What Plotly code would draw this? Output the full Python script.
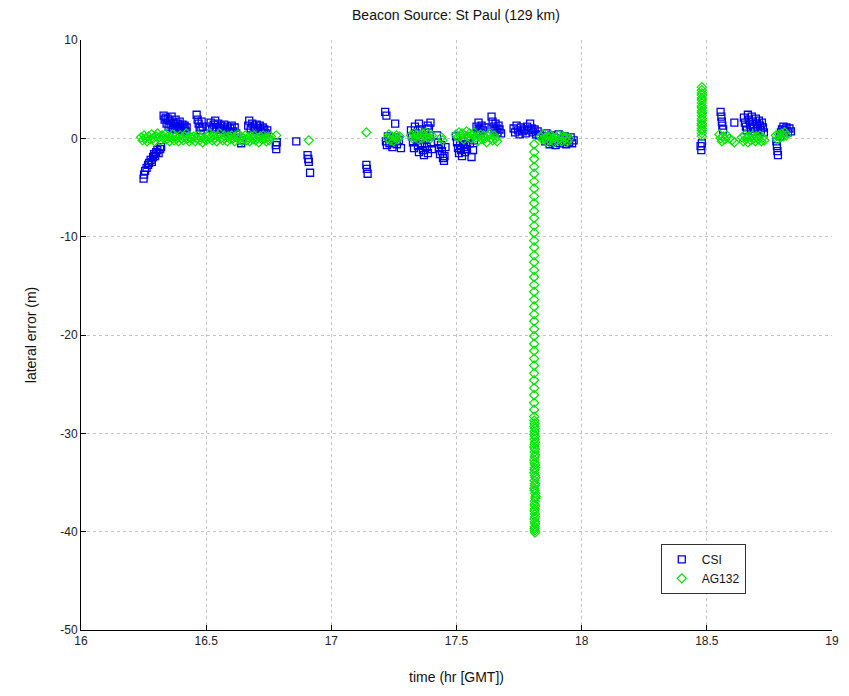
import plotly.graph_objects as go

# Lateral error of two DGPS receivers fed by the St Paul beacon (129 km)

x_ticks = [16, 16.5, 17, 17.5, 18, 18.5, 19]
y_ticks = [10, 0, -10, -20, -30, -40, -50]

# CSI receiver: (time [hr GMT], lateral error [m])
csi_time = [
    16.250, 16.252, 16.256, 16.262, 16.268, 16.272, 16.278, 16.283, 16.288, 16.292, 16.296, 16.300,
    16.305, 16.310, 16.316, 16.320,
    16.330, 16.334, 16.338, 16.342, 16.346, 16.350, 16.354, 16.358, 16.362, 16.366, 16.370, 16.374,
    16.378, 16.382, 16.386, 16.390, 16.394, 16.398, 16.402, 16.406, 16.410, 16.414, 16.418, 16.422,
    16.462, 16.466, 16.470, 16.474, 16.478, 16.482, 16.486,
    16.512, 16.518, 16.524, 16.530, 16.536, 16.542, 16.548, 16.554, 16.560, 16.566, 16.572, 16.578,
    16.584, 16.590, 16.596, 16.602, 16.608, 16.614, 16.620,
    16.640, 16.642,
    16.668, 16.672, 16.678, 16.684, 16.690, 16.696, 16.702, 16.708, 16.714, 16.720, 16.726, 16.732,
    16.738, 16.744,
    16.778, 16.780, 16.782,
    16.860,
    16.905, 16.908, 16.910, 16.915,
    17.140, 17.142, 17.145,
    17.215, 17.220, 17.255,
    17.218, 17.222, 17.226, 17.232, 17.238, 17.244, 17.250, 17.256, 17.262, 17.270, 17.278,
    17.318, 17.322, 17.326, 17.330, 17.334, 17.338, 17.342, 17.346, 17.350, 17.354, 17.358, 17.362,
    17.366, 17.370, 17.374, 17.378, 17.382, 17.386, 17.390, 17.394, 17.398, 17.402, 17.350, 17.385,
    17.396,
    17.422, 17.426, 17.430, 17.434, 17.438, 17.442, 17.446, 17.450, 17.452, 17.456,
    17.498, 17.502, 17.506, 17.510, 17.514, 17.518, 17.522, 17.526, 17.530, 17.534, 17.538, 17.542,
    17.548, 17.554, 17.560, 17.566, 17.570,
    17.580, 17.584, 17.588, 17.592, 17.596, 17.600, 17.606, 17.612,
    17.640, 17.644, 17.648, 17.652, 17.656, 17.660, 17.664, 17.668, 17.672, 17.678,
    17.728, 17.734, 17.740, 17.746, 17.752, 17.758, 17.764, 17.770, 17.776, 17.782, 17.788, 17.794,
    17.800, 17.806, 17.812, 17.818, 17.824, 17.830,
    17.848, 17.854, 17.860, 17.866, 17.872, 17.878, 17.884, 17.890, 17.896, 17.902, 17.908, 17.914,
    17.920, 17.926, 17.932, 17.938, 17.944, 17.950, 17.956, 17.962, 17.968,
    18.475, 18.478, 18.480,
    18.555, 18.558, 18.560, 18.562, 18.565,
    18.610,
    18.648, 18.652, 18.656, 18.660, 18.664, 18.668, 18.672, 18.676, 18.680, 18.684, 18.688, 18.692,
    18.696, 18.700, 18.704, 18.708, 18.712, 18.716, 18.720, 18.724, 18.728,
    18.778, 18.780, 18.782, 18.784,
    18.792, 18.796, 18.800, 18.806, 18.812, 18.818, 18.824, 18.830, 18.836,
]
csi_error = [
    -4.1, -3.7, -3.3, -3.0, -2.7, -2.5, -2.2, -2.4, -1.9, -1.6, -1.8, -1.4,
    -1.2, -1.5, -1.1, -0.9,
    2.3, 1.9, 2.1, 1.5, 2.0, 1.2, 1.8, 1.4, 2.2, 1.0, 1.6, 1.3,
    1.9, 0.9, 1.5, 1.1, 1.7, 1.2, 0.8, 1.4, 1.0, 1.3, 0.7, 1.1,
    2.4, 1.9, 1.5, 1.1, 0.8, 1.7, 1.2,
    1.2, 1.6, 1.0, 1.4, 1.8, 1.1, 1.5, 0.9, 1.3, 1.0, 1.4, 0.8,
    1.2, 0.6, 1.0, 1.3, 0.7, 1.1, 0.5,
    -0.5, -0.2,
    1.3, 1.8, 1.0, 1.5, 1.2, 0.8, 1.4, 1.0, 1.3, 0.7, 1.1, 0.9,
    0.5, 0.8,
    -0.7, -1.1, -0.4,
    -0.3,
    -1.7, -2.1, -2.4, -3.5,
    -2.7, -3.1, -3.6,
    2.7, 2.3, 1.5,
    -0.3, -0.7, 0.2, -0.5, 0.0, -0.9, -0.4, 0.1, -0.6, -0.2, -1.0,
    0.8, 0.2, -0.4, -1.0, 1.2, 0.5, -0.2, -0.8, -1.4, 0.9, 0.1, -0.6,
    -1.2, -1.7, 0.6, -0.1, -0.9, -1.5, 1.0, 0.3, -0.5, -1.1, 1.5, 1.3,
    1.6,
    0.3, -0.4, -1.0, -1.6, -0.7, -1.3, -2.0, -2.3, -1.8, -0.9,
    0.2, -0.4, -1.0, -1.5, -0.7, -1.2, -1.8, -0.3, -0.9, -1.4, -0.6, -1.1,
    0.0, -0.5, -1.9, -1.2, -0.2,
    1.2, 0.7, 1.6, 1.0, 0.5, 1.3, 0.8, 1.1,
    2.2, 1.7, 1.2, 0.8, 1.5, 1.0, 0.6, 1.3, 0.9, 0.5,
    1.0, 0.6, 1.3, 0.8, 0.4, 1.1, 0.7, 0.9, 0.5, 1.2, 0.8, 1.5,
    1.0, 0.6, 0.9, 0.4, 0.7, 0.3,
    0.2, -0.3, 0.5, -0.1, -0.6, 0.3, -0.4, 0.1, -0.7, -0.2, 0.4, -0.5,
    0.0, -0.3, 0.2, -0.6, -0.1, -0.4, 0.1, -0.5, -0.2,
    -0.8, -1.2, -0.5,
    2.7, 2.2, 1.7, 1.3, 0.9,
    1.6,
    2.1, 1.6, 1.2, 0.8, 2.4, 1.9, 1.4, 1.0, 2.2, 1.7, 1.2, 0.7,
    2.0, 1.5, 1.0, 1.8, 1.3, 0.8, 1.6, 1.1, 0.6,
    -0.3, -0.8, -1.3, -1.7,
    0.2, 0.6, 0.9, 1.2, 0.8, 1.1, 0.6, 1.0, 0.7,
]

# AG132 receiver: (time [hr GMT], lateral error [m])
ag_time = [
    16.240, 16.246, 16.252, 16.258, 16.264, 16.270, 16.276, 16.282, 16.288, 16.294, 16.300, 16.306,
    16.312, 16.318, 16.324, 16.330, 16.336, 16.342, 16.348, 16.354, 16.360, 16.366, 16.372, 16.378,
    16.384, 16.390, 16.396, 16.402, 16.408, 16.414, 16.420, 16.426, 16.432, 16.438, 16.444, 16.450,
    16.456, 16.462, 16.468, 16.474, 16.480, 16.486, 16.492, 16.500, 16.506, 16.512, 16.518, 16.524,
    16.530, 16.536, 16.542, 16.548, 16.554, 16.560, 16.566, 16.572, 16.578, 16.584, 16.590, 16.596,
    16.602, 16.608, 16.614, 16.620, 16.626, 16.632, 16.638, 16.644, 16.650, 16.656, 16.662, 16.668,
    16.674, 16.680, 16.686, 16.692, 16.698, 16.704, 16.710, 16.716, 16.722, 16.728, 16.734, 16.740,
    16.746, 16.752, 16.758,
    16.780, 16.910,
    17.140,
    17.225, 17.230, 17.236, 17.242, 17.248, 17.254, 17.260, 17.266, 17.272,
    17.318, 17.324, 17.330, 17.336, 17.342, 17.348, 17.354, 17.360, 17.366, 17.372, 17.378, 17.384,
    17.390, 17.396, 17.402,
    17.440, 17.444,
    17.498, 17.504, 17.510, 17.516, 17.522, 17.528, 17.534, 17.540, 17.546, 17.552, 17.558, 17.564,
    17.570,
    17.578, 17.584, 17.590, 17.596, 17.602, 17.608, 17.614, 17.620, 17.626, 17.632, 17.638, 17.644,
    17.650, 17.656, 17.662,
    17.836, 17.842, 17.848, 17.854, 17.860, 17.866, 17.872, 17.878, 17.884, 17.890, 17.896, 17.902,
    17.908, 17.914, 17.920, 17.926, 17.932, 17.938, 17.944, 17.950,
    # drop-out at 17.81 hr
    17.810, 17.810, 17.810, 17.810, 17.810, 17.810, 17.810, 17.810, 17.810, 17.810, 17.810, 17.810,
    17.810, 17.810, 17.810, 17.810, 17.810, 17.810, 17.810, 17.810, 17.810, 17.810, 17.810, 17.810,
    17.810, 17.810, 17.810, 17.810, 17.810, 17.810, 17.810, 17.810, 17.810, 17.810, 17.810, 17.810,
    17.810, 17.810,
    17.811, 17.812, 17.811, 17.813, 17.812, 17.811, 17.813, 17.812, 17.814, 17.812, 17.811, 17.813,
    17.812, 17.814, 17.813, 17.811, 17.812, 17.814, 17.813, 17.812, 17.811, 17.813, 17.815, 17.812,
    17.814, 17.813, 17.811, 17.812, 17.814, 17.816, 17.815, 17.813, 17.812, 17.814, 17.813, 17.812,
    17.813, 17.814, 17.812, 17.813, 17.814, 17.813, 17.812, 17.813, 17.814,
    # jump at 18.48 hr
    18.480, 18.480, 18.480, 18.480, 18.480, 18.480, 18.480, 18.480, 18.480, 18.480, 18.480, 18.480,
    18.480, 18.480, 18.480, 18.480, 18.480, 18.480, 18.480, 18.480,
    18.550, 18.555, 18.560, 18.566, 18.572, 18.580, 18.590, 18.600, 18.610,
    18.640, 18.646, 18.652, 18.658, 18.664, 18.670, 18.676, 18.682, 18.688, 18.694, 18.700, 18.706,
    18.712, 18.718, 18.724, 18.730,
    18.776, 18.782, 18.788, 18.794, 18.800, 18.806, 18.812, 18.818,
]
ag_error = [
    0.1, -0.2, 0.3, 0.0, -0.3, 0.2, -0.1, 0.4, 0.0, -0.3, 0.2, 0.5,
    0.1, -0.2, 0.3, 0.0, 0.4, -0.1, 0.2, -0.3, 0.1, 0.4, -0.2, 0.2,
    0.0, -0.3, 0.3, 0.0, -0.2, 0.2, 0.5, 0.0, -0.3, 0.1, -0.1, 0.2,
    -0.3, 0.0, 0.3, -0.2, 0.1, -0.4, 0.0, -0.2, 0.2, 0.5, 0.1, -0.2,
    0.3, 0.0, -0.3, 0.2, 0.5, 0.0, -0.2, 0.3, 0.1, -0.3, 0.2, -0.1,
    0.3, 0.0, -0.3, 0.1, 0.4, -0.1, 0.2, -0.3, 0.0, 0.3, -0.2, 0.1,
    -0.3, 0.2, -0.1, 0.3, -0.2, 0.0, -0.4, 0.2, -0.1, 0.3, 0.0, -0.3,
    0.1, -0.2, 0.2,
    0.3, -0.2,
    0.6,
    0.0, 0.4, -0.2, 0.2, -0.3, 0.1, 0.3, -0.1, 0.2,
    0.3, 0.0, 0.5, 0.1, 0.4, -0.1, 0.3, 0.0, 0.5, 0.2, 0.6, 0.1,
    0.4, 0.0, 0.3,
    0.1, -0.2,
    0.4, 0.1, 0.6, 0.2, 0.5, -0.1, 0.3, 0.7, 0.2, 0.5, 0.0, 0.3,
    0.6,
    0.1, -0.3, 0.2, 0.4, -0.1, 0.3, 0.0, -0.4, 0.2, 0.5, 0.0, -0.2,
    0.3, 0.0, -0.3,
    0.2, -0.1, 0.4, 0.0, -0.3, 0.2, -0.2, 0.3, 0.0, -0.4, 0.1, -0.2,
    0.3, 0.0, -0.3, 0.2, -0.1, 0.1, -0.3, 0.0,
    -0.6, -1.4, -2.1, -2.9, -3.6, -4.4, -5.1, -5.9, -6.6, -7.4, -8.1, -8.9,
    -9.6, -10.4, -11.1, -11.9, -12.6, -13.4, -14.1, -14.9, -15.6, -16.4, -17.1, -17.9,
    -18.6, -19.4, -20.1, -20.9, -21.6, -22.4, -23.1, -23.9, -24.6, -25.4, -26.1, -26.9,
    -27.6, -28.3,
    -28.7, -29.0, -29.3, -29.5, -29.8, -30.1, -30.3, -30.6, -30.9, -31.1, -31.4, -31.6,
    -31.9, -32.2, -32.4, -32.7, -33.0, -33.2, -33.5, -33.7, -34.0, -34.3, -34.5, -34.8,
    -35.1, -35.3, -35.6, -35.8, -36.1, -36.4, -36.6, -36.9, -37.2, -37.4, -37.7, -37.9,
    -38.2, -38.5, -38.7, -39.0, -39.2, -39.5, -39.7, -39.9, -40.1,
    0.2, 0.5, 0.8, 1.0, 1.3, 1.5, 1.8, 2.0, 2.3, 2.6, 2.8, 3.1,
    3.3, 3.6, 3.9, 4.1, 4.4, 4.6, 4.9, 5.2,
    0.4, 0.0, -0.3, 0.2, -0.1, 0.3, 0.0, -0.2, -0.4,
    0.1, -0.3, 0.3, 0.0, -0.4, 0.2, -0.2, 0.3, 0.0, -0.3, 0.2, -0.1,
    0.3, -0.3, 0.1, -0.2,
    0.3, -0.1, 0.4, 0.1, 0.5, 0.2, 0.6, 0.3,
]

FONT = "Liberation Sans, Arial, Helvetica, sans-serif"

fig = go.Figure()
fig.add_trace(go.Scatter(
    x=csi_time, y=csi_error, mode="markers", name="CSI",
    marker=dict(symbol="square-open", size=7, color="#0000ee", line=dict(width=1.3)),
))
fig.add_trace(go.Scatter(
    x=ag_time, y=ag_error, mode="markers", name="AG132",
    marker=dict(symbol="diamond-open", size=7, color="#00e600", line=dict(width=1.2)),
))

axis_common = dict(
    showgrid=True, gridcolor="#c4c4c4", gridwidth=1, griddash="dot",
    zeroline=False, showline=True, linecolor="#000000", linewidth=1,
    mirror=False, ticks="inside", ticklen=5, tickcolor="#000000",
    tickfont=dict(family=FONT, size=12, color="#222222"),
)

fig.update_layout(
    width=849, height=696,
    paper_bgcolor="white", plot_bgcolor="white",
    margin=dict(l=81, r=10, t=40, b=66),
    title=dict(text="Beacon Source: St Paul (129 km)", x=0.537, xanchor="center",
               y=0.979, yanchor="middle",
               font=dict(family=FONT, size=14, color="#111111")),
    xaxis=dict(range=[16, 19], tickvals=x_ticks, ticktext=[str(v) for v in x_ticks],
               title=dict(text="time (hr [GMT])", font=dict(family=FONT, size=14, color="#111111"),
                          standoff=24),
               **axis_common),
    yaxis=dict(range=[-50, 10], tickvals=y_ticks, ticktext=[str(v) for v in y_ticks],
               title=dict(text="lateral error (m)", font=dict(family=FONT, size=14, color="#111111"),
                          standoff=20),
               **axis_common),
    legend=dict(x=0.772, y=0.146, xanchor="left", yanchor="top",
                bgcolor="white", bordercolor="#333333", borderwidth=1,
                font=dict(family=FONT, size=12, color="#111111"),
                itemwidth=30, tracegroupgap=0),
    showlegend=True,
)

fig.write_html("out.html")
